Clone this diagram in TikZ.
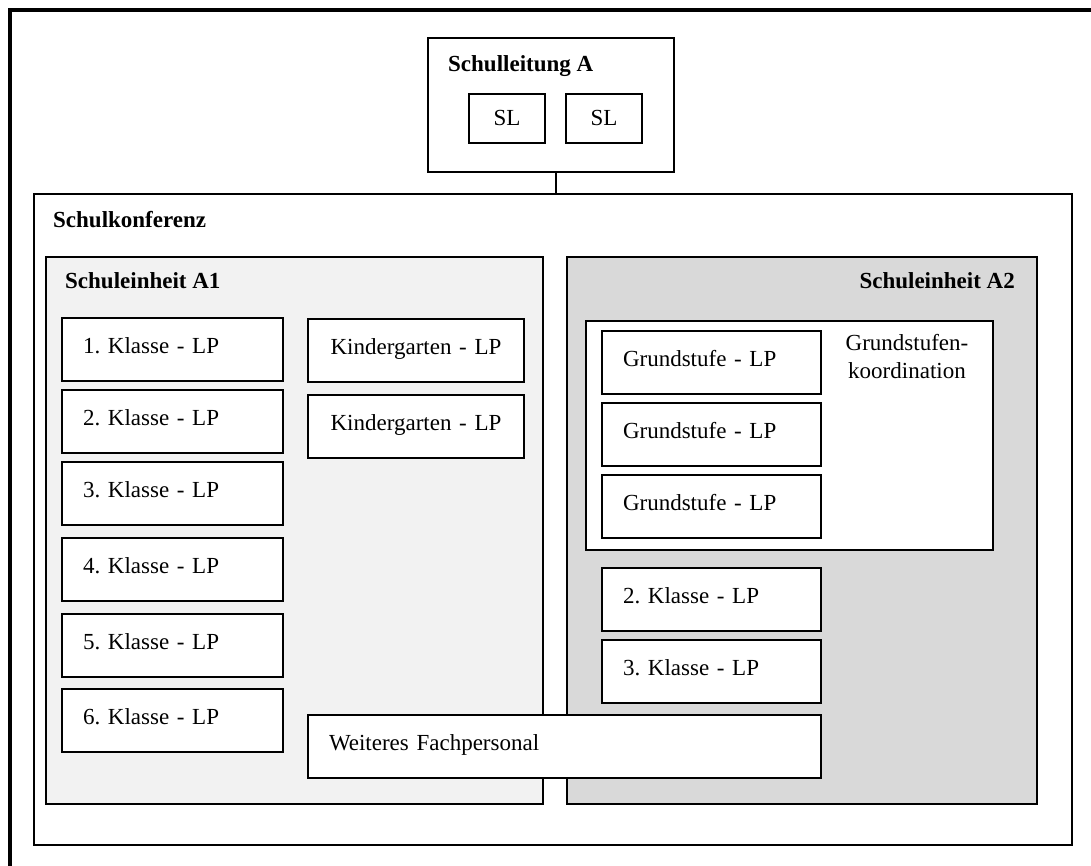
\documentclass[tikz,border=0pt]{standalone}
\usepackage{fontspec}
\setmainfont{Liberation Serif}
\definecolor{lightfill}{HTML}{F2F2F2}
\definecolor{darkfill}{HTML}{D9D9D9}
\newcommand{\boxfont}{\fontsize{23}{28}\selectfont\frenchspacing}
\tikzset{
  box/.style={draw,line width=2pt,anchor=north west,inner sep=0pt},
  unit/.style={box,fill=white,inner xsep=21pt,text height=35pt,text depth=28pt,align=left},
  head/.style={anchor=base west,inner sep=0pt,font=\boxfont\bfseries},
}
\begin{document}
\begin{tikzpicture}[x=1pt,y=-1pt,line join=miter,font=\boxfont]
	\useasboundingbox (0,0) rectangle (1091,866);
	\draw[line width=3.2pt] (10,900) -- (10,10) -- (1120,10);
	% Schulleitung
	\node[box,minimum width=246pt,minimum height=134pt] (sl) at (427,37) {};
	\node[head] (slt) at (448,72) {Schulleitung A};
	\node[box,minimum width=76pt,minimum height=49pt] (sl1) at (468,93) {SL};
	\node[box,minimum width=76pt,minimum height=49pt] (sl2) at (565,93) {SL};
	% Schulkonferenz
	\node[box,minimum width=1038pt,minimum height=651pt] (sk) at (33,193) {};
	\node[head] (skt) at (53,228) {Schulkonferenz};
	\draw[line width=2pt] ([xshift=5pt]sl.south) -- ([xshift=5pt]sl.south |- sk.north);
	% Schuleinheiten
	\node[box,fill=lightfill,minimum width=497pt,minimum height=547pt] (seA) at (45,256) {};
	\node[head] (seAt) at (65,288) {Schuleinheit A1};
	\node[box,fill=darkfill,minimum width=470pt,minimum height=547pt] (seB) at (566,256) {};
	\node[head,anchor=base east] (seBt) at (1015,288) {Schuleinheit A2};
	\foreach \n/\y in {1/317,2/389,3/461,4/537,5/613,6/688}
		\node[unit,text width=179pt] (ka\n) at (61,\y) {\n. Klasse - LP};
	\node[unit,text width=174pt,align=center] (kg1) at (307,318) {Kindergarten - LP};
	\node[unit,text width=174pt,align=center] (kg2) at (307,394) {Kindergarten - LP};
	\node[box,fill=white,minimum width=407pt,minimum height=229pt] (gsk) at (585,320) {};
	\node[anchor=north,inner sep=0pt,align=center] (gskt) at (907,334) {Grundstufen-\\koordination};
	\foreach \n/\y in {1/330,2/402,3/474}
		\node[unit,text width=177pt] (gs\n) at (601,\y) {Grundstufe - LP};
	\node[unit,text width=177pt] (kb2) at (601,567) {2. Klasse - LP};
	\node[unit,text width=177pt] (kb3) at (601,639) {3. Klasse - LP};
	\node[unit,text width=471pt] (fp) at (307,714) {Weiteres Fachpersonal};
\end{tikzpicture}
\end{document}
